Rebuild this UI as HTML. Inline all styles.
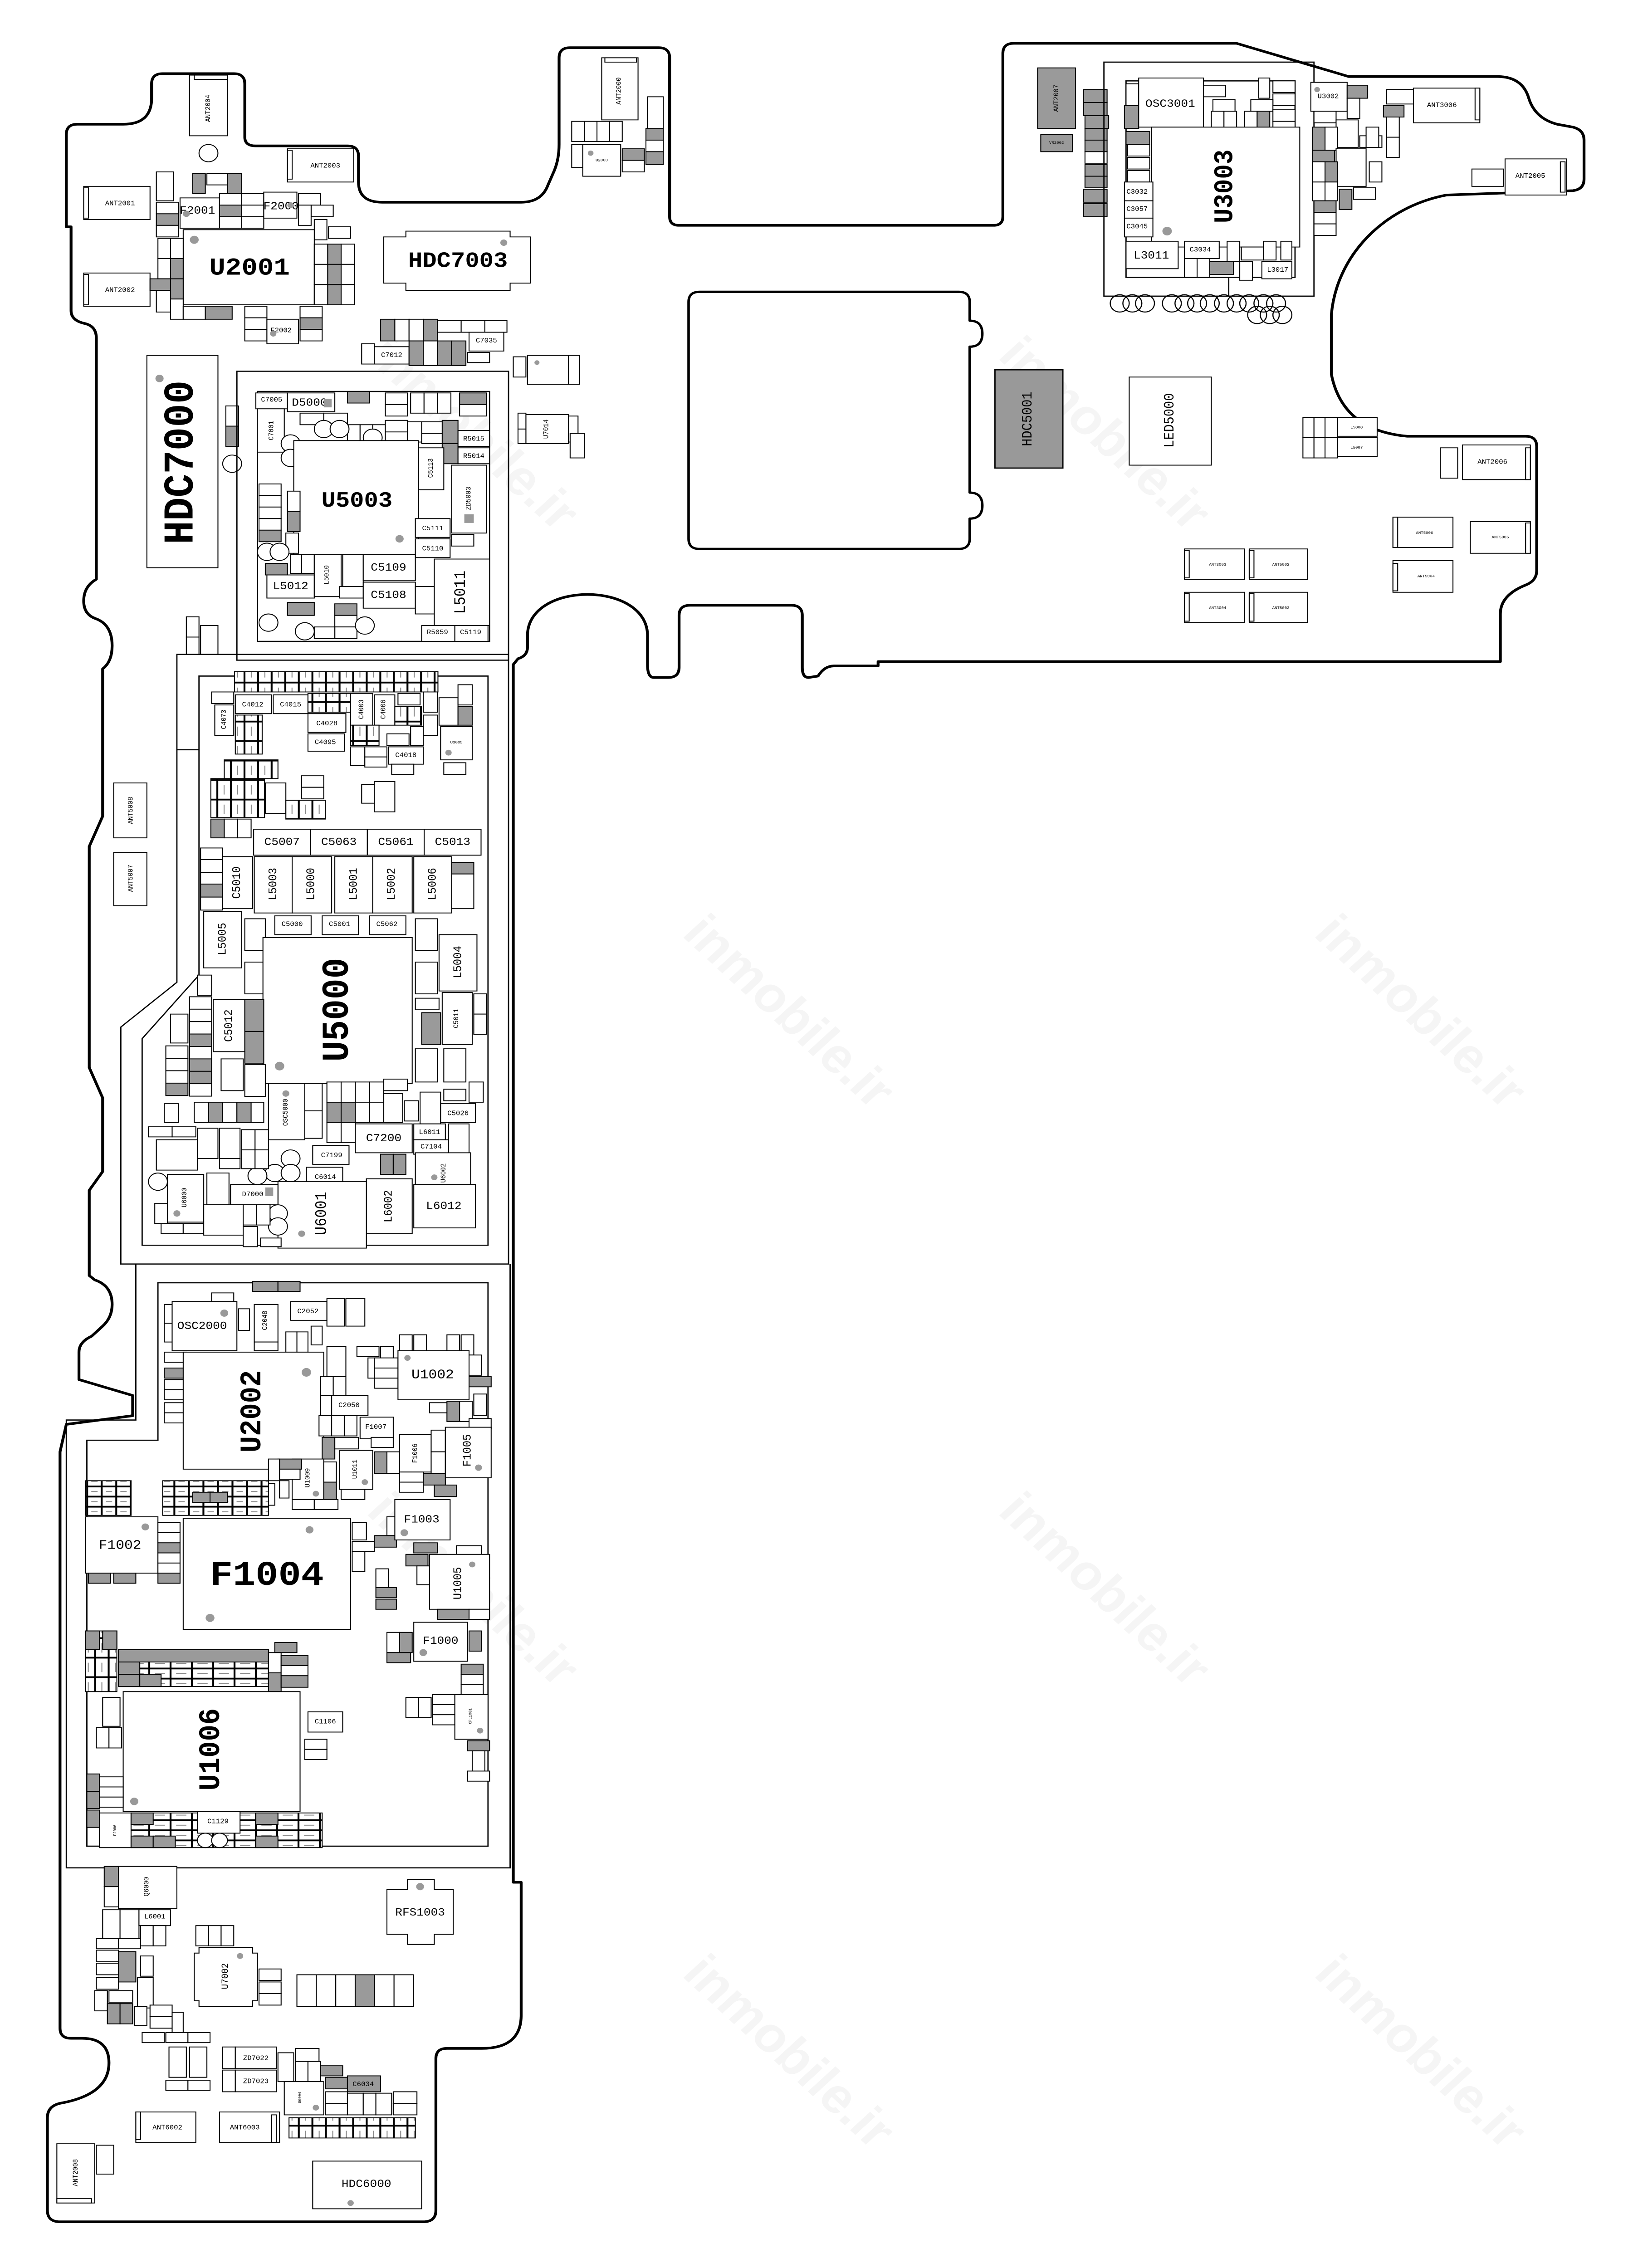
<!DOCTYPE html>
<html><head><meta charset="utf-8">
<style>
html,body{margin:0;padding:0;background:#fff;width:100%;height:100%;overflow:hidden;}
svg{display:block;position:fixed;left:0;top:0;width:100vw;height:100vh;}
.o{fill:none;stroke:#000;stroke-width:1.8;stroke-linejoin:round;}
.b{fill:none;stroke:#000;stroke-width:.8;}
.c{fill:#fff;stroke:#000;stroke-width:.6;}
.g{fill:#9a9a9a;stroke:#000;stroke-width:.6;}
.k{fill:#fff;stroke:#000;stroke-width:.6;}
text{font-family:"Liberation Mono",monospace;fill:#000;text-anchor:middle;dominant-baseline:central;}
.L{font-size:15px;font-weight:bold;}
.M{font-size:7.5px;}
.S{font-size:4.5px;}
.T{font-size:2.6px;}
.dot{fill:#999;}
.w{font-family:"Liberation Sans",sans-serif;font-size:34px;fill:#f5f5f5;font-weight:bold;}
</style></head><body>
<svg viewBox="0 0 1034 1570" preserveAspectRatio="none" xmlns="http://www.w3.org/2000/svg">
<defs>
<pattern id="ph" width="9.2" height="7" patternUnits="userSpaceOnUse"><rect x=".3" y=".3" width="8.6" height="6.4" fill="#fff" stroke="#000" stroke-width=".6"/><rect x="2.6" y="3.2" width="4" height=".6" fill="#888"/></pattern>
<pattern id="pv" width="8.6" height="13.5" patternUnits="userSpaceOnUse"><rect x=".3" y=".3" width="8" height="12.9" fill="#fff" stroke="#000" stroke-width=".6"/><rect x="4" y="3.5" width=".6" height="6.5" fill="#888"/></pattern>
<pattern id="pw" width="13.5" height="7" patternUnits="userSpaceOnUse"><rect x=".3" y=".3" width="12.9" height="6.4" fill="#fff" stroke="#000" stroke-width=".6"/><rect x="3.5" y="3.2" width="6.5" height=".6" fill="#888"/></pattern>
</defs>
<rect width="1034" height="1570" fill="#fff"/>
<g transform="rotate(45 300 300)"><text class="w" x="300" y="300">inmobile.ir</text></g>
<g transform="rotate(45 700 300)"><text class="w" x="700" y="300">inmobile.ir</text></g>
<g transform="rotate(45 500 700)"><text class="w" x="500" y="700">inmobile.ir</text></g>
<g transform="rotate(45 900 700)"><text class="w" x="900" y="700">inmobile.ir</text></g>
<g transform="rotate(45 300 1100)"><text class="w" x="300" y="1100">inmobile.ir</text></g>
<g transform="rotate(45 700 1100)"><text class="w" x="700" y="1100">inmobile.ir</text></g>
<g transform="rotate(45 900 1420)"><text class="w" x="900" y="1420">inmobile.ir</text></g>
<g transform="rotate(45 500 1420)"><text class="w" x="500" y="1420">inmobile.ir</text></g>

<path class="o" d="M 49,86 L 78,86 Q 96,86 96,68 L 96,58 Q 96,51 103,51 L 148,51 Q 155,51 155,58 L 155,95 Q 155,101 162,101 L 220,101 Q 227,101 227,108 L 227,126 Q 227,140 242,140 L 330,140 Q 343,140 347,128 L 351,118 Q 354,110 354,100 L 354,40 Q 354,33 361,33 L 417,33 Q 424,33 424,40 L 424,150 Q 424,156 430,156 L 629,156 Q 635,156 635,150 L 635,37 Q 635,30 642,30 L 783,30 L 854,53 L 948,53 Q 964,53 968,68 Q 972,82 986,86 L 996,88 Q 1003,90 1003,97 L 1003,124 Q 1003,131 996,132 L 916,135 A 92 92 0 0 0 843,218 L 843,259 Q 850,298 891,302 L 966,302 Q 973,302 973,309 L 973,395 Q 973,402 966,405 Q 950,412 950,425 L 950,458 L 556,458 L 556,461 L 528,461 Q 522,461 518,468 L 512,469 Q 508,469 508,462 L 508,426 Q 508,419 501,419 L 437,419 Q 430,419 430,426 L 430,462 Q 430,469 423,469 L 414,469 Q 410,469 410,460 L 410,440 C 410,402 334,402 334,440 L 334,448 Q 334,454 328,456 L 325,460 L 325,1303 L 330,1303 L 330,1395 Q 330,1418 305,1418 L 283,1418 Q 276,1418 276,1425 L 276,1530 Q 276,1538 268,1538 L 38,1538 Q 30,1538 30,1530 L 30,1466 Q 30,1458 38,1456 Q 69,1450 69,1428 Q 69,1411 52,1411 L 45,1411 Q 38,1411 38,1404 L 38,1005 L 42,986 L 84,980 L 84,966 L 50,955 L 50,936 Q 50,929 58,925 L 65,918 Q 71,912 71,903 Q 71,890 60,886 L 56.5,883 L 56.5,824 L 65,811 L 65,760 L 56.5,739 L 56.5,586 L 65,565 L 65,463 Q 71,458 71,447 Q 71,432 60,428 Q 53,425 53,416 Q 53,406 61,401 L 61,234 Q 61,226 54,224 Q 45,222 45,215 L 45,157 L 42,157 L 42,93 Q 42,86 49,86 Z"/>

<rect class="c" x="120" y="52" width="24" height="42"/><rect class="k" x="123" y="52" width="21" height="3"/>
<g transform="rotate(-90 132 75)"><text class="S" x="132" y="75">ANT2004</text></g>
<circle class="c" cx="132" cy="106" r="6"/>
<rect class="c" x="182" y="103" width="42" height="23"/><rect class="k" x="182" y="104" width="3" height="20"/>
<text class="S" x="206" y="115">ANT2003</text>
<rect class="c" x="53" y="129" width="42" height="23"/><rect class="k" x="53" y="130" width="3" height="21"/><text class="S" x="76" y="141">ANT2001</text>
<rect class="c" x="53" y="189" width="42" height="23"/><rect class="k" x="53" y="190" width="3" height="21"/><text class="S" x="76" y="201">ANT2002</text>
<rect class="c" x="99" y="119" width="11" height="20"/>
<rect class="g" x="122" y="120" width="8" height="14"/><rect class="c" x="131" y="120" width="13" height="8"/><rect class="g" x="144" y="120" width="9" height="14"/>
<rect class="c" x="114" y="137" width="25" height="21"/><text class="M" x="125" y="146">F2001</text><circle class="dot" cx="118" cy="148" r="2.2"/>
<rect class="c" x="99" y="140" width="14" height="8"/><rect class="g" x="99" y="148" width="14" height="8"/><rect class="c" x="99" y="156" width="14" height="8"/>
<rect class="c" x="139" y="134" width="14" height="8"/><rect class="g" x="139" y="142" width="14" height="8"/><rect class="c" x="139" y="150" width="14" height="8"/>
<rect class="c" x="153" y="134" width="14" height="8"/><rect class="c" x="153" y="142" width="14" height="8"/><rect class="c" x="153" y="150" width="14" height="8"/>
<rect class="c" x="167" y="133" width="21" height="18"/><text class="M" x="178" y="143">F2000</text><circle class="dot" cx="184" cy="142" r="2"/>
<rect class="c" x="189" y="134" width="14" height="8"/><rect class="c" x="197" y="142" width="14" height="8"/><rect class="c" x="189" y="142" width="8" height="14"/>
<rect class="c" x="199" y="152" width="8" height="14"/><rect class="c" x="208" y="157" width="14" height="8"/>
<rect class="c" x="116" y="159" width="83" height="52"/><text class="L" x="158" y="186" style="font-size:17px">U2001</text><circle class="dot" cx="123" cy="166" r="2.8"/>
<rect class="c" x="100" y="165" width="8" height="14"/><rect class="c" x="108" y="165" width="8" height="14"/>
<rect class="c" x="100" y="179" width="8" height="14"/><rect class="g" x="108" y="179" width="8" height="14"/>
<rect class="g" x="95" y="193" width="13" height="8"/><rect class="g" x="108" y="193" width="8" height="14"/>
<rect class="c" x="99" y="201" width="9" height="15"/><rect class="c" x="108" y="207" width="8" height="14"/>
<rect class="c" x="116" y="212" width="14" height="9"/><rect class="g" x="130" y="212" width="17" height="9"/>
<rect class="c" x="155" y="212" width="14" height="8"/><rect class="c" x="155" y="220" width="14" height="8"/><rect class="c" x="155" y="228" width="14" height="8"/>
<rect class="c" x="169" y="221" width="20" height="17"/><text class="S" x="178" y="229">F2002</text><circle class="dot" cx="173" cy="231" r="2"/>
<rect class="c" x="190" y="212" width="14" height="8"/><rect class="g" x="190" y="220" width="14" height="8"/><rect class="c" x="190" y="228" width="14" height="8"/>
<rect class="c" x="199" y="169" width="8.5" height="14"/><rect class="g" x="207.5" y="169" width="8.5" height="14"/><rect class="c" x="216" y="169" width="8.5" height="14"/>
<rect class="c" x="199" y="183" width="8.5" height="14"/><rect class="g" x="207.5" y="183" width="8.5" height="14"/><rect class="c" x="216" y="183" width="8.5" height="14"/>
<rect class="c" x="199" y="197" width="8.5" height="14"/><rect class="g" x="207.5" y="197" width="8.5" height="14"/><rect class="c" x="216" y="197" width="8.5" height="14"/>
<path class="c" d="M257,160 L323,160 L323,164 L336,164 L336,196 L323,196 L323,201 L257,201 L257,196 L243,196 L243,164 L257,164 Z"/>
<text class="L" x="290" y="181" style="font-size:15px">HDC7003</text><circle class="dot" cx="319" cy="168" r="2.2"/>
<rect class="g" x="241" y="221" width="9" height="15"/><rect class="c" x="250" y="221" width="9" height="15"/><rect class="c" x="259" y="221" width="9" height="15"/><rect class="g" x="268" y="221" width="9" height="15"/>
<rect class="c" x="277" y="222" width="15" height="8"/><rect class="c" x="292" y="222" width="15" height="8"/><rect class="c" x="307" y="222" width="14" height="8"/>
<rect class="c" x="229" y="238" width="8" height="14"/><rect class="c" x="237" y="240" width="22" height="12"/><text class="S" x="248" y="246">C7012</text>
<rect class="g" x="259" y="236" width="9" height="17"/><rect class="c" x="268" y="236" width="9" height="17"/><rect class="g" x="277" y="236" width="9" height="17"/><rect class="g" x="286" y="236" width="9" height="17"/>
<rect class="c" x="297" y="230" width="22" height="13"/><text class="S" x="308" y="236">C7035</text><rect class="c" x="296" y="244" width="14" height="7"/>
<rect class="c" x="325" y="247" width="8" height="14"/><rect class="c" x="334" y="246" width="10" height="12"/>
<rect class="c" x="343" y="246" width="8" height="16"/>

<rect class="c" x="93" y="246" width="45" height="147"/>
<g transform="rotate(-90 115 320)"><text class="L" x="115" y="320" style="font-size:27px">HDC7000</text></g>
<circle class="dot" cx="101" cy="262" r="2.6"/>
<rect class="c" x="143" y="281" width="8" height="14"/><rect class="g" x="143" y="295" width="8" height="14"/>
<circle class="c" cx="147" cy="321" r="6"/>
<rect class="c" x="118" y="427" width="8" height="14"/><rect class="c" x="118" y="441" width="8" height="12"/><rect class="c" x="127" y="433" width="11" height="20"/>

<rect class="b" x="150" y="257" width="172" height="200"/>
<rect class="b" x="163" y="271" width="147" height="173"/>
<rect class="c" x="162" y="272" width="20" height="11"/><text class="S" x="172" y="277">C7005</text>
<rect class="c" x="182" y="272" width="30" height="13"/><text class="M" x="196" y="279">D5000</text><rect x="205" y="276" width="5" height="6" fill="#999"/>
<rect class="g" x="220" y="271" width="14" height="8"/>
<rect class="c" x="244" y="272" width="14" height="8"/><rect class="c" x="244" y="280" width="14" height="8"/>
<rect class="c" x="260" y="272" width="8.5" height="14"/><rect class="c" x="268.5" y="272" width="8.5" height="14"/><rect class="c" x="277" y="272" width="8.5" height="14"/>
<rect class="g" x="291" y="272" width="17" height="8"/><rect class="c" x="291" y="280" width="17" height="8"/>
<rect class="c" x="163" y="283" width="17" height="30"/><g transform="rotate(-90 172 298)"><text class="S" x="172" y="298">C7001</text></g>
<rect class="c" x="190" y="286" width="15" height="8"/><rect class="c" x="205" y="286" width="15" height="8"/>
<rect class="c" x="220" y="294" width="8" height="14"/><rect class="c" x="228" y="294" width="8" height="14"/><rect class="c" x="236" y="294" width="8" height="14"/>
<rect class="c" x="244" y="291" width="14" height="8"/>
<rect class="c" x="258" y="292" width="9" height="14"/><rect class="c" x="267" y="292" width="14" height="8"/><rect class="c" x="267" y="300" width="14" height="7"/>
<rect class="g" x="280" y="291" width="10" height="16"/><rect class="g" x="280" y="307" width="10" height="14"/>
<rect class="c" x="290" y="298" width="20" height="11"/><text class="S" x="300" y="304">R5015</text>
<rect class="c" x="290" y="310" width="20" height="11"/><text class="S" x="300" y="316">R5014</text>
<circle class="c" cx="205" cy="297" r="6"/><circle class="c" cx="215" cy="297" r="6"/><circle class="c" cx="184" cy="307" r="6"/><circle class="c" cx="184" cy="317" r="6"/><circle class="c" cx="236" cy="303" r="6"/>
<rect class="c" x="186" y="305" width="79" height="79"/>
<text class="L" x="226" y="347" style="font-size:15px">U5003</text><circle class="dot" cx="253" cy="373" r="2.6"/>
<rect class="c" x="265" y="310" width="16" height="29"/><g transform="rotate(-90 273 324)"><text class="S" x="273" y="324">C5113</text></g>
<rect class="c" x="286" y="322" width="22" height="47"/><g transform="rotate(-90 297 345)"><text class="S" x="297" y="345">ZD5003</text></g><rect x="294" y="356" width="6" height="6" fill="#999"/>
<rect class="c" x="263" y="359" width="22" height="13"/><text class="S" x="274" y="366">C5111</text>
<rect class="c" x="263" y="373" width="22" height="13"/><text class="S" x="274" y="380">C5110</text><rect class="c" x="286" y="370" width="14" height="8"/>
<rect class="c" x="164" y="335" width="14" height="8"/><rect class="c" x="164" y="343" width="14" height="8"/><rect class="c" x="164" y="351" width="14" height="8"/><rect class="c" x="164" y="359" width="14" height="8"/><rect class="g" x="164" y="367" width="14" height="8"/>
<rect class="c" x="182" y="340" width="8" height="14"/><rect class="g" x="182" y="354" width="8" height="14"/><rect class="c" x="181" y="369" width="8" height="14"/>
<circle class="c" cx="169" cy="382" r="6"/><circle class="c" cx="177" cy="382" r="6"/>
<rect class="g" x="168" y="390" width="14" height="8"/><rect class="c" x="184" y="384" width="8" height="13"/><rect class="c" x="191" y="384" width="8" height="13"/>
<rect class="c" x="169" y="398" width="30" height="16"/><text class="M" x="184" y="406">L5012</text>
<rect class="c" x="199" y="384" width="17" height="29"/><g transform="rotate(-90 207 398)"><text class="S" x="207" y="398">L5010</text></g>
<rect class="c" x="217" y="384" width="13" height="22"/><rect class="c" x="215" y="406" width="15" height="8"/>
<rect class="c" x="230" y="384" width="33" height="18"/><text class="M" x="246" y="393">C5109</text>
<rect class="c" x="230" y="403" width="33" height="18"/><text class="M" x="246" y="412">C5108</text>
<rect class="c" x="263" y="406" width="12" height="19"/>
<rect class="c" x="275" y="387" width="35" height="46"/><g transform="rotate(-90 292 410)"><text class="M" x="292" y="410" style="font-size:10px">L5011</text></g>
<rect class="g" x="182" y="417" width="17" height="9"/><rect class="g" x="212" y="418" width="14" height="8"/><rect class="c" x="212" y="426" width="14" height="8"/><rect class="c" x="212" y="434" width="14" height="8"/><rect class="c" x="199" y="434" width="13" height="8"/>
<circle class="c" cx="170" cy="431" r="6"/><circle class="c" cx="193" cy="437" r="6"/><circle class="c" cx="231" cy="433" r="6"/>
<rect class="c" x="267" y="433" width="21" height="11"/><text class="S" x="277" y="438">R5059</text><rect class="c" x="288" y="433" width="21" height="11"/><text class="S" x="298" y="438">C5119</text>
<rect class="c" x="333" y="287" width="27" height="20"/><g transform="rotate(-90 346 297)"><text class="S" x="346" y="297">U7014</text></g><rect class="c" x="360" y="288" width="6" height="18"/><rect class="c" x="328" y="286" width="5" height="11"/><rect class="c" x="328" y="297" width="5" height="10"/>
<rect class="c" x="361" y="300" width="9" height="17"/>

<path class="b" d="M 112,453 L 322,453 L 322,875 L 76.5,875 L 76.5,711 L 112,680 Z"/>
<path class="b" d="M 126,468 L 309,468 L 309,862 L 90,862 L 90,719 L 126,675 Z"/>
<line class="b" x1="112" y1="519" x2="126" y2="519"/>
<rect class="c" x="72" y="542" width="21" height="38"/><g transform="rotate(-90 83 561)"><text class="S" x="83" y="561">ANT5008</text></g>
<rect class="c" x="72" y="590" width="21" height="37"/><g transform="rotate(-90 83 608)"><text class="S" x="83" y="608">ANT5007</text></g>
<rect x="148.5" y="465" width="128.8" height="14" fill="url(#pv)" stroke="#000" stroke-width=".6"/>
<rect class="c" x="134" y="479" width="14" height="8"/>
<rect class="c" x="149" y="481" width="23" height="13"/><text class="S" x="160" y="488">C4012</text>
<rect class="c" x="173" y="481" width="22" height="13"/><text class="S" x="184" y="488">C4015</text>
<rect x="195" y="480" width="27" height="13" fill="url(#pv)" stroke="#000" stroke-width=".6"/>
<rect class="c" x="222" y="480" width="14" height="22"/><g transform="rotate(-90 229 491)"><text class="S" x="229" y="491">C4003</text></g>
<rect class="c" x="237" y="481" width="13" height="21"/><g transform="rotate(-90 243 491)"><text class="S" x="243" y="491">C4006</text></g>
<rect class="c" x="252" y="480" width="14" height="8"/><rect class="c" x="268" y="479" width="9" height="14"/>
<rect class="c" x="136" y="488" width="12" height="21"/><g transform="rotate(-90 142 498)"><text class="S" x="142" y="498">C4073</text></g>
<rect x="149" y="495" width="17" height="27" fill="url(#pv)" stroke="#000" stroke-width=".6"/>
<rect class="c" x="195" y="494" width="24" height="13"/><text class="S" x="207" y="501">C4028</text>
<rect class="c" x="195" y="508" width="23" height="12"/><text class="S" x="206" y="514">C4095</text>
<rect x="222" y="502" width="18" height="14" fill="url(#pv)" stroke="#000" stroke-width=".6"/>
<rect x="250" y="489" width="17" height="13" fill="url(#pv)" stroke="#000" stroke-width=".6"/><rect class="c" x="268" y="495" width="9" height="14"/>
<rect class="c" x="245" y="508" width="14" height="8"/><rect class="c" x="260" y="503" width="8" height="13"/>
<rect class="c" x="222" y="517" width="9" height="13"/><rect class="c" x="231" y="517" width="14" height="7"/><rect class="c" x="231" y="524" width="14" height="7"/>
<rect class="c" x="246" y="517" width="22" height="12"/><text class="S" x="257" y="523">C4018</text><rect class="c" x="248" y="529" width="14" height="7"/>
<rect class="c" x="278" y="483" width="12" height="19"/><rect class="c" x="290" y="474" width="9" height="14"/><rect class="g" x="290" y="489" width="9" height="13"/>
<rect class="c" x="279" y="503" width="20" height="23"/><text class="T" x="289" y="514">U3005</text><circle class="dot" cx="284" cy="521" r="2"/>
<rect class="c" x="281" y="528" width="14" height="8"/>
<rect x="142" y="526" width="34" height="13" fill="url(#pv)" stroke="#000" stroke-width=".6"/>
<rect x="133.5" y="539" width="34" height="27" fill="url(#pv)" stroke="#000" stroke-width=".6"/>
<rect class="g" x="133.5" y="567" width="8.5" height="13"/><rect class="c" x="142" y="567" width="8.5" height="13"/><rect class="c" x="150.5" y="567" width="8.5" height="13"/>
<rect class="c" x="168" y="542" width="13" height="21"/>
<rect class="c" x="191" y="537" width="14" height="8"/><rect class="c" x="191" y="545" width="14" height="8"/>
<rect x="181" y="554" width="25" height="13" fill="url(#pv)" stroke="#000" stroke-width=".6"/>
<rect class="c" x="229" y="543" width="8" height="13"/><rect class="c" x="237" y="541" width="13" height="21"/>
<rect class="c" x="160.6" y="574" width="36" height="18"/><text class="M" x="178.6" y="583">C5007</text>
<rect class="c" x="196.6" y="574" width="36" height="18"/><text class="M" x="214.6" y="583">C5063</text>
<rect class="c" x="232.6" y="574" width="36" height="18"/><text class="M" x="250.6" y="583">C5061</text>
<rect class="c" x="268.6" y="574" width="36" height="18"/><text class="M" x="286.6" y="583">C5013</text>
<rect class="c" x="127" y="587" width="14" height="8"/><rect class="c" x="127" y="595" width="14" height="9"/><rect class="c" x="127" y="604" width="14" height="8"/><rect class="g" x="127" y="612" width="14" height="9"/><rect class="c" x="127" y="621" width="14" height="9"/>
<rect class="c" x="141" y="593" width="19" height="36"/><g transform="rotate(-90 150 611)"><text class="M" x="150" y="611">C5010</text></g>
<rect class="c" x="161" y="593" width="24" height="39"/><g transform="rotate(-90 173 612)"><text class="M" x="173" y="612">L5003</text></g>
<rect class="c" x="185" y="593" width="25" height="39"/><g transform="rotate(-90 197 612)"><text class="M" x="197" y="612">L5000</text></g>
<rect class="c" x="212" y="593" width="24" height="39"/><g transform="rotate(-90 224 612)"><text class="M" x="224" y="612">L5001</text></g>
<rect class="c" x="236" y="593" width="25" height="39"/><g transform="rotate(-90 248 612)"><text class="M" x="248" y="612">L5002</text></g>
<rect class="c" x="262" y="593" width="24" height="39"/><g transform="rotate(-90 274 612)"><text class="M" x="274" y="612">L5006</text></g>
<rect class="g" x="286" y="597" width="14" height="8"/><rect class="c" x="286" y="605" width="14" height="24"/>
<rect class="c" x="174" y="634" width="23" height="13"/><text class="S" x="185" y="640">C5000</text>
<rect class="c" x="204" y="634" width="23" height="13"/><text class="S" x="215" y="640">C5001</text>
<rect class="c" x="234" y="634" width="23" height="13"/><text class="S" x="245" y="640">C5062</text>
<rect class="c" x="129" y="631" width="24" height="39"/><g transform="rotate(-90 141 650)"><text class="M" x="141" y="650">L5005</text></g>
<rect class="c" x="155" y="636" width="13" height="22"/><rect class="c" x="155" y="666" width="13" height="22"/>
<rect class="c" x="166.5" y="649" width="94.5" height="101"/>
<g transform="rotate(-90 214 699)"><text class="L" x="214" y="699" style="font-size:24px">U5000</text></g>
<circle class="dot" cx="177" cy="738" r="3"/>
<rect class="c" x="263" y="636" width="14" height="22"/><rect class="c" x="263" y="666" width="14" height="22"/>
<rect class="c" x="278" y="647" width="24" height="39"/><g transform="rotate(-90 290 666)"><text class="M" x="290" y="666">L5004</text></g>
<rect class="c" x="263" y="691" width="15" height="8"/><rect class="g" x="267" y="701" width="12" height="22"/>
<rect class="c" x="280" y="687" width="19" height="36"/><g transform="rotate(-90 289 705)"><text class="S" x="289" y="705">C5011</text></g>
<rect class="c" x="300" y="688" width="8" height="14"/><rect class="c" x="300" y="702" width="8" height="14"/>
<rect class="c" x="263" y="726" width="14" height="23"/><rect class="c" x="281" y="726" width="14" height="23"/>
<rect class="c" x="125" y="675" width="9" height="14"/>
<rect class="c" x="120" y="690" width="14" height="8.6"/><rect class="c" x="120" y="698.6" width="14" height="8.6"/><rect class="c" x="120" y="707.2" width="14" height="8.6"/><rect class="g" x="120" y="715.8" width="14" height="8.6"/><rect class="c" x="120" y="724.4" width="14" height="8.6"/><rect class="g" x="120" y="733" width="14" height="8.6"/><rect class="g" x="120" y="741.6" width="14" height="8.6"/><rect class="c" x="120" y="750.2" width="14" height="8.6"/>
<rect class="c" x="108" y="702" width="11" height="20"/>
<rect class="c" x="105" y="724" width="14" height="8.6"/><rect class="c" x="105" y="732.6" width="14" height="8.6"/><rect class="c" x="105" y="741.2" width="14" height="8.6"/><rect class="g" x="105" y="749.8" width="14" height="8.6"/>
<rect class="c" x="135" y="692" width="20" height="36"/><g transform="rotate(-90 145 710)"><text class="M" x="145" y="710">C5012</text></g>
<rect class="g" x="155" y="692" width="12" height="22"/><rect class="g" x="155" y="714" width="12" height="22"/>
<rect class="c" x="140" y="733" width="14" height="22"/><rect class="c" x="155" y="737" width="13" height="22"/>
<rect class="c" x="170" y="750" width="23" height="39"/><g transform="rotate(-90 181 770)"><text class="S" x="181" y="770">OSC5000</text></g><circle class="dot" cx="181" cy="757" r="2.2"/>
<rect class="c" x="193" y="750" width="11" height="19"/><rect class="c" x="193" y="769" width="11" height="19"/>
<rect class="c" x="207" y="749" width="9" height="14"/><rect class="c" x="216" y="749" width="9" height="14"/><rect class="c" x="225" y="749" width="9" height="14"/><rect class="c" x="234" y="749" width="9" height="14"/>
<rect class="g" x="207" y="763" width="9" height="14"/><rect class="g" x="216" y="763" width="9" height="14"/><rect class="c" x="225" y="763" width="9" height="14"/><rect class="c" x="234" y="763" width="9" height="14"/>
<rect class="c" x="207" y="777" width="9" height="14"/><rect class="c" x="216" y="777" width="9" height="14"/>
<rect class="c" x="243" y="747" width="15" height="8"/><rect class="c" x="243" y="757" width="12" height="20"/>
<rect class="c" x="256" y="762" width="9" height="14"/><rect class="c" x="266" y="756" width="13" height="22"/>
<rect class="c" x="281" y="754" width="14" height="8"/><rect class="c" x="297" y="749" width="9" height="14"/>
<rect class="c" x="279" y="764" width="22" height="13"/><text class="S" x="290" y="771">C5026</text>
<rect class="c" x="225" y="778" width="36" height="20"/><text class="M" x="243" y="788">C7200</text>
<rect class="c" x="262" y="778" width="20" height="11"/><text class="S" x="272" y="784">L6011</text>
<rect class="c" x="262" y="789" width="22" height="10"/><text class="S" x="273" y="794">C7104</text>
<rect class="c" x="284" y="778" width="13" height="23"/>
<rect class="c" x="198" y="793" width="23" height="13"/><text class="S" x="210" y="800">C7199</text>
<rect class="c" x="194" y="808" width="23" height="13"/><text class="S" x="206" y="815">C6014</text>
<rect class="g" x="241" y="799" width="8" height="14"/><rect class="g" x="249" y="799" width="8" height="14"/>
<rect class="c" x="263" y="798" width="35" height="28"/><g transform="rotate(-90 281 812)"><text class="S" x="281" y="812">U6002</text></g><circle class="dot" cx="275" cy="815" r="2"/>
<rect class="c" x="262" y="820" width="39" height="30"/><text class="M" x="281" y="835">L6012</text>
<rect class="c" x="232" y="816" width="29" height="38"/><g transform="rotate(-90 246 835)"><text class="M" x="246" y="835">L6002</text></g>
<rect class="c" x="176" y="818" width="56" height="46"/><g transform="rotate(-90 204 840)"><text class="M" x="204" y="840" style="font-size:10px">U6001</text></g><circle class="dot" cx="191" cy="854" r="2.2"/>
<circle class="c" cx="184" cy="802" r="6"/><circle class="c" cx="174" cy="812" r="6"/><circle class="c" cx="163" cy="814" r="6"/><circle class="c" cx="184" cy="812" r="6"/><circle class="c" cx="176" cy="840" r="6"/><circle class="c" cx="176" cy="849" r="6"/>
<rect class="c" x="146" y="820" width="30" height="14"/><text class="S" x="160" y="827">D7000</text><rect x="168" y="822" width="5" height="6" fill="#999"/>
<rect class="c" x="131" y="812" width="14" height="22"/>
<rect class="c" x="106" y="813" width="23" height="33"/><g transform="rotate(-90 117 829)"><text class="S" x="117" y="829">U6000</text></g><circle class="dot" cx="112" cy="840" r="2.2"/>
<circle class="c" cx="100" cy="818" r="6"/>
<rect class="c" x="98" y="833" width="8" height="14"/><rect class="c" x="102" y="847" width="14" height="7"/><rect class="c" x="116" y="847" width="14" height="7"/>
<rect class="c" x="129" y="834" width="25" height="21"/>
<rect class="c" x="154" y="834" width="8.5" height="14"/><rect class="c" x="162.5" y="834" width="8.5" height="14"/><rect class="c" x="154" y="849" width="9" height="14"/><rect class="c" x="165" y="857" width="13" height="6"/>
<rect class="c" x="99" y="789" width="26" height="21"/>
<rect class="c" x="94" y="780" width="15" height="7"/><rect class="c" x="109" y="780" width="15" height="7"/>
<rect class="c" x="125" y="781" width="13" height="21"/><rect class="c" x="139" y="781" width="13" height="21"/>
<rect class="c" x="153" y="782" width="8.5" height="14"/><rect class="c" x="161.5" y="782" width="8.5" height="14"/>
<rect class="c" x="153" y="796" width="8.5" height="13"/><rect class="c" x="161.5" y="796" width="8.5" height="13"/><rect class="c" x="139" y="802" width="13" height="7"/>
<rect class="c" x="104" y="764" width="9" height="13"/>
<rect class="c" x="123" y="763" width="9" height="14"/><rect class="g" x="132" y="763" width="9" height="14"/><rect class="c" x="141" y="763" width="9" height="14"/><rect class="g" x="150" y="763" width="9" height="14"/><rect class="c" x="159" y="763" width="8" height="14"/>

<path class="b" d="M 86,875 L 86,983 L 42,983 L 42,1293 L 323,1293 L 323,875"/>
<path class="b" d="M 100,888 L 309,888 L 309,1278 L 55,1278 L 55,997 L 100,997 Z"/>
<rect class="g" x="160" y="887" width="16" height="7"/><rect class="g" x="176" y="887" width="14" height="7"/>
<rect class="c" x="134" y="895" width="14" height="7"/>
<rect class="c" x="104" y="903" width="5" height="13"/><rect class="c" x="104" y="916" width="5" height="13"/>
<rect class="c" x="109" y="901" width="41" height="34"/><text class="M" x="128" y="918">OSC2000</text><circle class="dot" cx="142" cy="909" r="2.5"/>
<rect class="c" x="151" y="906" width="7" height="15"/>
<rect class="c" x="161" y="903" width="15" height="26"/><g transform="rotate(-90 168 914)"><text class="S" x="168" y="914">C2048</text></g><rect class="c" x="161" y="929" width="15" height="6"/>
<rect class="c" x="184" y="901" width="23" height="13"/><text class="S" x="195" y="908">C2052</text>
<rect class="c" x="207" y="899" width="11" height="19"/><rect class="c" x="219" y="899" width="12" height="19"/>
<rect class="c" x="197" y="918" width="7" height="13"/><rect class="c" x="181" y="922" width="7" height="14"/><rect class="c" x="188" y="922" width="7" height="14"/>
<rect class="c" x="104" y="936" width="14" height="7"/><rect class="g" x="104" y="947" width="14" height="7"/><rect class="c" x="104" y="955" width="14" height="7"/><rect class="c" x="104" y="962" width="14" height="7"/><rect class="c" x="104" y="971" width="14" height="7"/><rect class="c" x="104" y="978" width="14" height="7"/>
<rect class="c" x="116" y="936" width="89" height="81"/>
<g transform="rotate(-90 160 977)"><text class="L" x="160" y="977" style="font-size:19px">U2002</text></g><circle class="dot" cx="194" cy="950" r="3"/>
<rect class="c" x="207" y="932" width="12" height="21"/>
<rect class="c" x="203" y="953" width="8" height="14"/><rect class="c" x="211" y="953" width="8" height="14"/><rect class="c" x="203" y="966" width="8" height="14"/>
<rect class="c" x="210" y="966" width="23" height="14"/><text class="S" x="221" y="973">C2050</text>
<rect class="c" x="226" y="932" width="14" height="7"/><rect class="c" x="233" y="940" width="8" height="14"/><rect class="c" x="241" y="932" width="8" height="14"/>
<rect class="c" x="237" y="940" width="15" height="7"/><rect class="c" x="237" y="947" width="15" height="7"/><rect class="c" x="237" y="954" width="15" height="7"/>
<rect class="c" x="253" y="924" width="8" height="14"/><rect class="c" x="262" y="924" width="8" height="14"/><rect class="c" x="283" y="924" width="8" height="14"/><rect class="c" x="292" y="924" width="8" height="14"/>
<rect class="c" x="252" y="935" width="45" height="34"/><text class="M" x="274" y="952" style="font-size:9px">U1002</text><circle class="dot" cx="258" cy="940" r="2"/>
<rect class="c" x="297" y="938" width="8" height="14"/><rect class="g" x="297" y="953" width="14" height="7"/>
<rect class="c" x="272" y="971" width="15" height="7"/><rect class="g" x="283" y="970" width="8" height="14"/><rect class="c" x="291" y="970" width="8" height="14"/><rect class="c" x="300" y="965" width="8" height="15"/><rect class="c" x="297" y="982" width="14" height="7"/>
<rect class="c" x="202" y="980" width="8" height="14"/><rect class="c" x="210" y="980" width="8" height="14"/><rect class="c" x="218" y="980" width="8" height="14"/>
<rect class="c" x="228" y="981" width="21" height="15"/><text class="S" x="238" y="988">F1007</text>
<rect class="g" x="204" y="995" width="8" height="15"/><rect class="c" x="212" y="995" width="15" height="8"/><rect class="c" x="235" y="995" width="14" height="7"/>
<rect class="c" x="215" y="1004" width="21" height="27"/><g transform="rotate(-90 225 1017)"><text class="S" x="225" y="1017">U1011</text></g><circle class="dot" cx="231" cy="1026" r="2"/>
<rect class="g" x="237" y="1005" width="8" height="15"/><rect class="c" x="245" y="1005" width="8" height="15"/>
<rect class="c" x="253" y="993" width="20" height="26"/><g transform="rotate(-90 263 1006)"><text class="S" x="263" y="1006">F1006</text></g>
<rect class="c" x="273" y="990" width="9" height="15"/><rect class="c" x="273" y="1005" width="9" height="15"/>
<rect class="c" x="282" y="988" width="29" height="35"/><g transform="rotate(-90 296 1004)"><text class="M" x="296" y="1004">F1005</text></g><circle class="dot" cx="303" cy="1016" r="2.2"/>
<rect class="c" x="253" y="1019" width="15" height="7"/><rect class="c" x="253" y="1026" width="15" height="7"/><rect class="g" x="268" y="1020" width="14" height="8"/><rect class="g" x="275" y="1028" width="14" height="8"/>
<rect class="c" x="185" y="1010" width="20" height="28"/><g transform="rotate(-90 195 1023)"><text class="S" x="195" y="1023">U1009</text></g><circle class="dot" cx="200" cy="1034" r="2"/>
<rect class="g" x="176" y="1010" width="15" height="7"/><rect class="c" x="175" y="1017" width="15" height="7"/><rect class="c" x="170" y="1010" width="7" height="15"/><rect class="c" x="177" y="1025" width="6" height="12"/>
<rect class="c" x="205" y="1012" width="8" height="14"/><rect class="g" x="205" y="1026" width="8" height="14"/><rect class="c" x="216" y="1031" width="15" height="7"/>
<rect class="c" x="185" y="1038" width="14" height="7"/><rect class="c" x="199" y="1038" width="15" height="7"/><rect class="c" x="160" y="1027" width="14" height="15"/>
<rect x="103" y="1025" width="67" height="24" fill="url(#ph)" stroke="#000" stroke-width=".6"/>
<rect class="g" x="122" y="1033" width="11" height="7"/><rect class="g" x="133" y="1033" width="11" height="7"/>
<rect x="54" y="1025" width="29" height="24" fill="url(#ph)" stroke="#000" stroke-width=".6"/>
<rect class="c" x="54" y="1050" width="46" height="39"/><text class="M" x="76" y="1070" style="font-size:9px">F1002</text><circle class="dot" cx="92" cy="1057" r="2.4"/>
<rect class="g" x="56" y="1089" width="14" height="7"/><rect class="g" x="72" y="1089" width="14" height="7"/>
<rect class="c" x="100" y="1054" width="14" height="7"/><rect class="c" x="100" y="1061" width="14" height="7"/><rect class="g" x="100" y="1068" width="14" height="7"/><rect class="c" x="100" y="1075" width="14" height="7"/><rect class="c" x="100" y="1082" width="14" height="7"/><rect class="g" x="100" y="1089" width="14" height="7"/>
<rect class="c" x="116" y="1051" width="106" height="77"/><text class="L" x="169" y="1091" style="font-size:24px">F1004</text><circle class="dot" cx="133" cy="1120" r="2.8"/><circle class="dot" cx="196" cy="1059" r="2.5"/>
<rect class="c" x="223" y="1054" width="9" height="12"/><rect class="c" x="223" y="1067" width="14" height="7"/><rect class="c" x="223" y="1074" width="8" height="14"/>
<rect class="c" x="245" y="1050" width="8" height="13"/><rect class="g" x="237" y="1063" width="14" height="8"/>
<rect class="c" x="250" y="1038" width="35" height="28"/><text class="M" x="267" y="1052">F1003</text><circle class="dot" cx="256" cy="1061" r="2.4"/>
<rect class="g" x="262" y="1068" width="15" height="7"/><rect class="g" x="257" y="1076" width="14" height="8"/><rect class="c" x="264" y="1084" width="8" height="13"/>
<rect class="c" x="289" y="1070" width="16" height="7"/>
<rect class="c" x="272" y="1076" width="38" height="38"/><g transform="rotate(-90 290 1096)"><text class="M" x="290" y="1096">U1005</text></g><circle class="dot" cx="299" cy="1083" r="2"/>
<rect class="c" x="238" y="1086" width="8" height="13"/><rect class="g" x="238" y="1099" width="13" height="7"/><rect class="g" x="238" y="1107" width="13" height="7"/>
<rect class="g" x="277" y="1114" width="20" height="7"/><rect class="c" x="297" y="1114" width="13" height="7"/>
<rect class="c" x="245" y="1130" width="8" height="14"/><rect class="g" x="253" y="1130" width="8" height="14"/><rect class="g" x="245" y="1144" width="15" height="7"/>
<rect class="c" x="262" y="1123" width="34" height="27"/><text class="M" x="279" y="1136">F1000</text><circle class="dot" cx="268" cy="1144" r="2.4"/>
<rect class="g" x="297" y="1129" width="8" height="14"/>
<rect class="g" x="292" y="1152" width="14" height="7"/><rect class="c" x="292" y="1159" width="14" height="7"/><rect class="c" x="292" y="1166" width="14" height="7"/>
<rect class="c" x="257" y="1175" width="8" height="14"/><rect class="c" x="265" y="1175" width="8" height="14"/>
<rect class="c" x="274" y="1173" width="14" height="7"/><rect class="c" x="274" y="1180" width="14" height="7"/><rect class="c" x="274" y="1187" width="14" height="7"/>
<rect class="c" x="288" y="1173" width="21" height="31"/><g transform="rotate(-90 298 1188)"><text class="T" x="298" y="1188">CPL1001</text></g><circle class="dot" cx="304" cy="1198" r="2"/>
<rect class="g" x="296" y="1205" width="14" height="7"/><rect class="c" x="299" y="1212" width="8" height="14"/><rect class="c" x="296" y="1226" width="14" height="7"/>
<rect x="54" y="1129" width="20" height="42" fill="url(#pv)" stroke="#000" stroke-width=".6"/><rect class="g" x="54" y="1129" width="9" height="13"/><rect class="g" x="65" y="1129" width="9" height="13"/>
<rect class="g" x="75" y="1142" width="95" height="8.5"/><rect x="75" y="1150.5" width="95" height="17" fill="url(#pw)" stroke="#000" stroke-width=".6"/>
<rect class="g" x="75" y="1150.5" width="13.5" height="8.5"/><rect class="g" x="75" y="1159" width="13.5" height="8.5"/><rect class="g" x="88.5" y="1159" width="13.5" height="8.5"/>
<rect class="g" x="174" y="1137" width="14" height="7"/><rect class="c" x="170" y="1144" width="8" height="14"/><rect class="g" x="170" y="1158" width="8" height="13"/>
<rect class="g" x="178" y="1146" width="17" height="7"/><rect class="c" x="178" y="1153" width="17" height="7"/><rect class="g" x="178" y="1160" width="17" height="8"/>
<rect class="c" x="65" y="1175" width="11" height="20"/><rect class="c" x="61" y="1196" width="8" height="14"/><rect class="c" x="69" y="1196" width="8" height="14"/>
<rect class="c" x="78" y="1171" width="112" height="83"/>
<g transform="rotate(-90 134 1211)"><text class="L" x="134" y="1211" style="font-size:19px">U1006</text></g><circle class="dot" cx="85" cy="1247" r="2.6"/>
<rect class="c" x="195" y="1185" width="22" height="14"/><text class="S" x="206" y="1192">C1106</text>
<rect class="c" x="193" y="1204" width="14" height="7"/><rect class="c" x="193" y="1211" width="14" height="7"/>
<rect class="g" x="55" y="1228" width="8" height="12"/><rect class="g" x="55" y="1240" width="8" height="12"/><rect class="g" x="55" y="1253" width="8" height="12"/>
<rect class="c" x="63" y="1230" width="15" height="7"/><rect class="c" x="63" y="1237" width="15" height="7"/><rect class="c" x="63" y="1244" width="15" height="7"/>
<rect class="c" x="63" y="1255" width="20" height="24"/><g transform="rotate(-90 73 1267)"><text class="T" x="73" y="1267">F2006</text></g>
<rect x="83" y="1255" width="121" height="24" fill="url(#pw)" stroke="#000" stroke-width=".6"/>
<rect class="g" x="83" y="1255" width="14" height="8"/><rect class="g" x="83" y="1271" width="14" height="8"/><rect class="g" x="97" y="1271" width="14" height="8"/>
<rect class="c" x="125" y="1254" width="27" height="15"/><text class="S" x="138" y="1261">C1129</text>
<circle class="c" cx="130" cy="1274" r="5"/><circle class="c" cx="139" cy="1274" r="5"/>
<rect class="g" x="162" y="1255" width="14" height="8"/><rect class="g" x="162" y="1271" width="14" height="8"/>

<rect class="g" x="66" y="1292" width="9" height="14"/><rect class="c" x="66" y="1306" width="9" height="14"/>
<rect class="c" x="75" y="1292" width="37" height="29"/><g transform="rotate(-90 93 1306)"><text class="S" x="93" y="1306">Q6000</text></g>
<rect class="c" x="65" y="1322" width="11" height="21"/><rect class="c" x="76" y="1322" width="12" height="21"/>
<rect class="c" x="88" y="1322" width="20" height="11"/><text class="S" x="98" y="1327">L6001</text>
<rect class="c" x="89" y="1333" width="8" height="14"/><rect class="c" x="97" y="1333" width="8" height="14"/>
<rect class="c" x="61" y="1342" width="14" height="7"/><rect class="c" x="75" y="1342" width="14" height="7"/>
<rect class="c" x="61" y="1350" width="14" height="8"/><rect class="c" x="61" y="1359" width="14" height="8"/><rect class="c" x="61" y="1369" width="14" height="8"/>
<rect class="g" x="75" y="1351" width="11" height="21"/>
<rect class="c" x="89" y="1354" width="8" height="14"/><rect class="c" x="87" y="1369" width="10" height="21"/>
<rect class="c" x="60" y="1378" width="8" height="14"/><rect class="c" x="69" y="1378" width="15" height="8"/>
<rect class="g" x="68" y="1387" width="8" height="14"/><rect class="g" x="76" y="1387" width="8" height="14"/>
<rect class="c" x="85" y="1389" width="8" height="13"/><rect class="c" x="95" y="1388" width="14" height="8"/><rect class="c" x="95" y="1396" width="14" height="8"/><rect class="c" x="109" y="1393" width="7" height="14"/>
<rect class="c" x="90" y="1407" width="14" height="7"/><rect class="c" x="105" y="1407" width="14" height="7"/><rect class="c" x="119" y="1407" width="14" height="7"/>
<rect class="c" x="107" y="1417" width="11" height="21"/><rect class="c" x="120" y="1417" width="11" height="21"/>
<rect class="c" x="105" y="1440" width="14" height="7"/><rect class="c" x="119" y="1440" width="14" height="7"/>
<rect class="c" x="124" y="1333" width="8" height="14"/><rect class="c" x="132" y="1333" width="8" height="14"/><rect class="c" x="140" y="1333" width="8" height="14"/>
<path class="c" d="M126,1348 L160,1348 L160,1352 L163,1352 L163,1385 L160,1385 L160,1389 L126,1389 L126,1385 L123,1385 L123,1352 L126,1352 Z"/>
<g transform="rotate(-90 143 1368)"><text class="S" x="143" y="1368" style="font-size:6px">U7002</text></g><circle class="dot" cx="152" cy="1354" r="2"/>
<rect class="c" x="164" y="1363" width="14" height="8"/><rect class="c" x="164" y="1372" width="14" height="8"/><rect class="c" x="164" y="1380" width="14" height="8"/>
<rect class="c" x="188" y="1367" width="12.3" height="22"/><rect class="c" x="200.3" y="1367" width="12.3" height="22"/><rect class="c" x="212.6" y="1367" width="12.3" height="22"/><rect class="g" x="224.9" y="1367" width="12.3" height="22"/><rect class="c" x="237.2" y="1367" width="12.3" height="22"/><rect class="c" x="249.5" y="1367" width="12.3" height="22"/>
<path class="c" d="M258,1301 L275,1301 L275,1308 L287,1308 L287,1339 L275,1339 L275,1346 L258,1346 L258,1339 L245,1339 L245,1308 L258,1308 Z"/>
<text class="M" x="266" y="1324">RFS1003</text><circle class="dot" cx="266" cy="1306" r="2.5"/>
<rect class="c" x="141" y="1417" width="8" height="15"/><rect class="c" x="141" y="1433" width="8" height="15"/>
<rect class="c" x="149" y="1417" width="26" height="15"/><text class="S" x="162" y="1425">ZD7022</text>
<rect class="c" x="149" y="1433" width="26" height="15"/><text class="S" x="162" y="1441">ZD7023</text>
<rect class="c" x="176" y="1421" width="10" height="20"/>
<rect class="c" x="187" y="1418" width="15" height="9"/><rect class="c" x="187" y="1427" width="8" height="14"/><rect class="c" x="195" y="1427" width="8" height="14"/>
<rect class="g" x="203" y="1430" width="14" height="7"/><rect class="g" x="206" y="1438" width="14" height="8"/>
<rect class="g" x="220" y="1437" width="21" height="11"/><text class="S" x="230" y="1443">C6034</text>
<rect class="c" x="180" y="1441" width="25" height="23"/><g transform="rotate(-90 190 1452)"><text class="T" x="190" y="1452">U6004</text></g><circle class="dot" cx="200" cy="1459" r="2"/>
<rect class="c" x="206" y="1448" width="14" height="8"/><rect class="c" x="206" y="1456" width="14" height="8"/>
<rect class="c" x="220" y="1449" width="10" height="15"/><rect class="c" x="230" y="1449" width="8" height="15"/><rect class="c" x="238" y="1449" width="10" height="15"/>
<rect class="c" x="249" y="1448" width="15" height="8"/><rect class="c" x="249" y="1456" width="15" height="8"/>
<rect x="183" y="1466" width="80" height="14" fill="url(#pv)" stroke="#000" stroke-width=".6"/>
<rect class="c" x="86" y="1462" width="38" height="21"/><rect class="k" x="86" y="1462" width="3" height="19"/><text class="S" x="106" y="1473">ANT6002</text>
<rect class="c" x="139" y="1462" width="38" height="21"/><rect class="k" x="172" y="1464" width="3" height="19"/><text class="S" x="155" y="1473">ANT6003</text>
<rect class="c" x="36" y="1484" width="24" height="41"/><rect class="k" x="36" y="1522" width="22" height="3"/><g transform="rotate(-90 48 1504)"><text class="S" x="48" y="1504">ANT2008</text></g>
<rect class="c" x="61" y="1485" width="11" height="20"/>
<rect class="c" x="198" y="1496" width="69" height="33"/><text class="M" x="232" y="1512">HDC6000</text><circle class="dot" cx="222" cy="1525" r="2"/>

<rect class="c" x="381" y="40" width="23" height="43"/><rect class="k" x="383" y="40" width="20" height="3"/><g transform="rotate(-90 392 63)"><text class="S" x="392" y="63">ANT2000</text></g>
<rect class="c" x="410" y="67" width="10" height="22"/>
<rect class="c" x="362" y="84" width="8" height="14"/><rect class="c" x="370" y="84" width="8" height="14"/><rect class="c" x="378" y="84" width="8" height="14"/><rect class="c" x="386" y="84" width="8" height="14"/>
<rect class="c" x="362" y="100" width="7" height="16"/>
<rect class="c" x="369" y="100" width="24" height="22"/><text class="T" x="381" y="111">U2000</text><circle class="dot" cx="374" cy="106" r="1.8"/>
<rect class="g" x="409" y="89" width="11" height="8"/><rect class="c" x="409" y="97" width="11" height="8"/><rect class="g" x="394" y="103" width="14" height="8"/><rect class="c" x="394" y="111" width="14" height="8"/><rect class="g" x="409" y="105" width="11" height="9"/>

<rect class="g" x="657" y="47" width="24" height="42"/><g transform="rotate(-90 669 68)"><text class="S" x="669" y="68">ANT2007</text></g>
<rect class="g" x="659" y="93" width="20" height="12"/><text class="T" x="669" y="99">VR2002</text>
<rect class="g" x="686" y="62" width="15" height="9"/><rect class="g" x="686" y="71" width="15" height="9"/><rect class="g" x="687" y="80" width="15" height="9"/><rect class="g" x="687" y="89" width="14" height="8"/><rect class="g" x="687" y="97" width="14" height="8"/><rect class="c" x="687" y="105" width="14" height="8"/><rect class="g" x="687" y="114" width="14" height="8"/><rect class="g" x="687" y="122" width="14" height="8"/><rect class="g" x="686" y="131" width="15" height="9"/><rect class="g" x="686" y="141" width="15" height="9"/>
<rect class="b" x="699" y="43" width="133" height="162"/>
<rect class="b" x="713" y="56" width="107" height="136"/>
<rect class="c" x="713" y="58" width="8" height="16"/><rect class="g" x="712" y="73" width="9" height="16"/>
<rect class="c" x="721" y="54" width="41" height="34"/><text class="M" x="741" y="72">OSC3001</text>
<rect class="c" x="762" y="59" width="14" height="8"/><rect class="c" x="768" y="69" width="14" height="8"/>
<rect class="c" x="797" y="54" width="7" height="14"/><rect class="c" x="806" y="56" width="14" height="8"/><rect class="c" x="806" y="65" width="14" height="8"/>
<rect class="c" x="792" y="69" width="14" height="8"/><rect class="c" x="767" y="77" width="8" height="14"/><rect class="c" x="775" y="77" width="8" height="14"/>
<rect class="c" x="788" y="77" width="8" height="14"/><rect class="g" x="796" y="77" width="8" height="16"/><rect class="c" x="806" y="76" width="14" height="8"/><rect class="c" x="806" y="84" width="14" height="8"/>
<rect class="g" x="713" y="91" width="15" height="9"/><rect class="c" x="714" y="100" width="14" height="8"/><rect class="c" x="714" y="109" width="14" height="8"/><rect class="c" x="714" y="118" width="14" height="8"/>
<rect class="c" x="729" y="88" width="94" height="83"/>
<g transform="rotate(-90 776 129)"><text class="L" x="776" y="129" style="font-size:17px">U3003</text></g><circle class="dot" cx="739" cy="160" r="3"/>
<rect class="c" x="712" y="126" width="18" height="13"/><text class="S" x="720" y="133">C3032</text>
<rect class="c" x="712" y="139" width="18" height="12"/><text class="S" x="720" y="145">C3057</text>
<rect class="c" x="712" y="151" width="18" height="13"/><text class="S" x="720" y="157">C3045</text>
<rect class="c" x="713" y="167" width="33" height="19"/><text class="M" x="729" y="177">L3011</text>
<rect class="c" x="750" y="167" width="22" height="12"/><text class="S" x="760" y="173">C3034</text>
<rect class="c" x="750" y="179" width="8" height="13"/><rect class="c" x="758" y="179" width="8" height="13"/><rect class="g" x="766" y="181" width="15" height="9"/>
<rect class="c" x="777" y="167" width="8" height="14"/><rect class="c" x="786" y="171" width="14" height="9"/><rect class="c" x="785" y="181" width="8" height="13"/>
<rect class="c" x="800" y="167" width="8" height="13"/><rect class="c" x="811" y="167" width="7" height="13"/>
<rect class="c" x="799" y="181" width="19" height="12"/><text class="S" x="809" y="187">L3017</text>
<g fill="none" stroke="#000" stroke-width=".7"><circle cx="709" cy="210" r="6"/><circle cx="717" cy="210" r="6"/><circle cx="725" cy="210" r="6"/><circle cx="742" cy="210" r="6"/><circle cx="750" cy="210" r="6"/><circle cx="758" cy="210" r="6"/><circle cx="766" cy="210" r="6"/><circle cx="775" cy="210" r="6"/><circle cx="783" cy="210" r="6"/><circle cx="791" cy="210" r="6"/><circle cx="800" cy="210" r="6"/><circle cx="808" cy="210" r="6"/><circle cx="796" cy="218" r="6"/><circle cx="804" cy="218" r="6"/><circle cx="812" cy="218" r="6"/></g>
<line class="b" x1="778" y1="192" x2="778" y2="205"/>
<rect class="c" x="830" y="57" width="23" height="20"/><text class="S" x="841" y="67">U3002</text><circle class="dot" cx="834" cy="62" r="1.8"/>
<rect class="g" x="853" y="59" width="13" height="9"/><rect class="c" x="853" y="68" width="8" height="14"/>
<rect class="c" x="832" y="77" width="14" height="8"/><rect class="c" x="846" y="83" width="14" height="19"/>
<rect class="g" x="831" y="88" width="8" height="16"/><rect class="c" x="839" y="88" width="8" height="16"/>
<rect class="c" x="861" y="94" width="14" height="8"/><rect class="g" x="831" y="104" width="14" height="8"/>
<rect class="c" x="846" y="103" width="19" height="26"/><rect class="c" x="865" y="88" width="8" height="14"/>
<rect class="c" x="831" y="112" width="8" height="14"/><rect class="g" x="839" y="112" width="8" height="14"/><rect class="c" x="831" y="126" width="8" height="13"/><rect class="c" x="839" y="126" width="8" height="13"/>
<rect class="g" x="848" y="131" width="8" height="14"/><rect class="c" x="857" y="130" width="14" height="8"/><rect class="c" x="867" y="112" width="8" height="14"/>
<rect class="g" x="832" y="139" width="14" height="8"/><rect class="c" x="832" y="147" width="14" height="8"/><rect class="c" x="832" y="155" width="14" height="8"/>
<rect class="c" x="878" y="62" width="19" height="10"/><rect class="g" x="876" y="73" width="13" height="8"/><rect class="c" x="878" y="81" width="8" height="14"/><rect class="c" x="878" y="95" width="8" height="14"/>
<rect class="c" x="895" y="61" width="42" height="24"/><rect class="k" x="934" y="61" width="3" height="22"/><text class="S" x="913" y="73">ANT3006</text>
<rect class="c" x="932" y="117" width="20" height="12"/>
<rect class="c" x="953" y="110" width="39" height="25"/><rect class="k" x="988" y="112" width="3" height="21"/><text class="S" x="969" y="122">ANT2005</text>

<path class="o" style="stroke-width:1.6" d="M 443,202 L 607,202 Q 614,202 614,209 L 614,222 Q 622,222 622,231 Q 622,240 614,240 L 614,341 Q 622,341 622,350 Q 622,359 614,359 L 614,373 Q 614,380 607,380 L 443,380 Q 436,380 436,373 L 436,209 Q 436,202 443,202 Z"/>
<rect x="630" y="256" width="43" height="68" fill="#999" stroke="#000" stroke-width=".8"/>
<g transform="rotate(-90 651 290)"><text class="M" x="651" y="290" style="font-size:9px">HDC5001</text></g>
<rect class="c" x="715" y="261" width="52" height="61"/>
<g transform="rotate(-90 741 291)"><text class="M" x="741" y="291" style="font-size:9px">LED5000</text></g>
<rect class="c" x="825" y="289" width="7" height="14"/><rect class="c" x="832" y="289" width="7" height="14"/><rect class="c" x="839" y="289" width="8" height="14"/><rect class="c" x="825" y="303" width="7" height="14"/><rect class="c" x="832" y="303" width="7" height="14"/><rect class="c" x="839" y="303" width="8" height="14"/>
<rect class="c" x="847" y="289" width="25" height="13"/><text class="T" x="859" y="296">L5008</text><rect class="c" x="847" y="303" width="25" height="13"/><text class="T" x="859" y="310">L5007</text>
<rect class="c" x="912" y="310" width="11" height="21"/>
<rect class="c" x="926" y="308" width="43" height="24"/><rect class="k" x="966" y="310" width="3" height="22"/><text class="S" x="945" y="320">ANT2006</text>
<rect class="c" x="882" y="358" width="38" height="21"/><rect class="k" x="882" y="358" width="3" height="21"/><text class="T" x="902" y="369">ANT5006</text>
<rect class="c" x="931" y="361" width="38" height="22"/><rect class="k" x="966" y="362" width="3" height="21"/><text class="T" x="950" y="372">ANT5005</text>
<rect class="c" x="882" y="388" width="38" height="22"/><rect class="k" x="882" y="390" width="3" height="19"/><text class="T" x="903" y="399">ANT5004</text>
<rect class="c" x="750" y="380" width="38" height="21"/><rect class="k" x="750" y="381" width="3" height="19"/><text class="T" x="771" y="391">ANT3003</text>
<rect class="c" x="791" y="380" width="37" height="21"/><rect class="k" x="791" y="381" width="3" height="19"/><text class="T" x="811" y="391">ANT5002</text>
<rect class="c" x="750" y="410" width="38" height="21"/><rect class="k" x="750" y="411" width="3" height="19"/><text class="T" x="771" y="421">ANT3004</text>
<rect class="c" x="791" y="410" width="37" height="21"/><rect class="k" x="791" y="411" width="3" height="19"/><text class="T" x="811" y="421">ANT5003</text>
<rect class="c" x="334" y="246" width="26" height="20"/><rect class="c" x="360" y="246" width="7" height="20"/><circle class="dot" cx="340" cy="251" r="1.6"/>
</svg>
</body></html>
